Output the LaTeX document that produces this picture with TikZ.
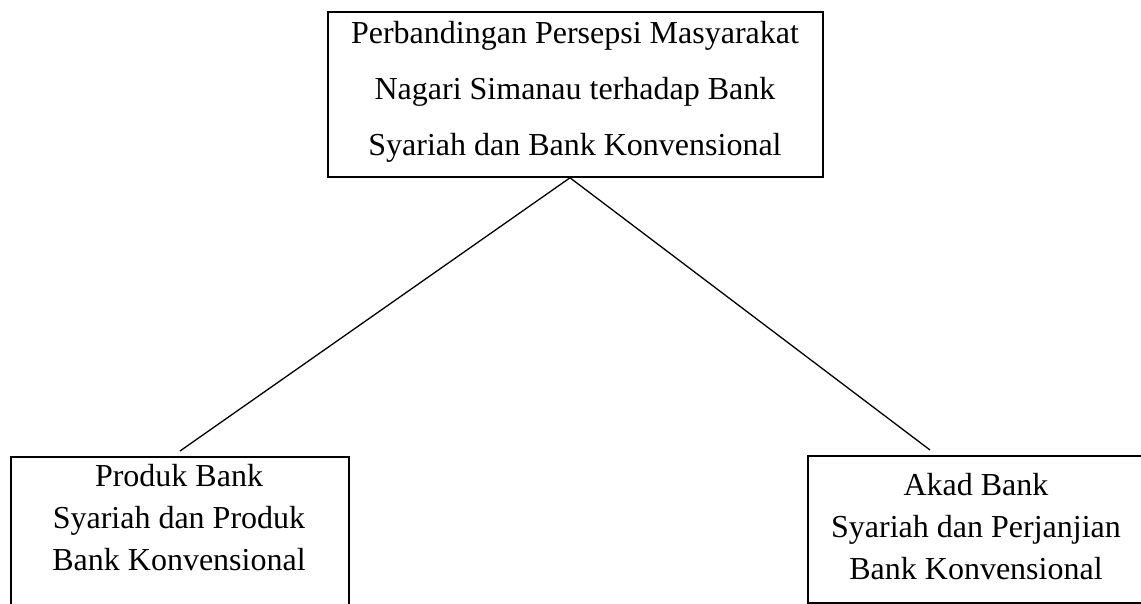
\documentclass[tikz,border=0pt]{standalone}
\usepackage{fontspec}
\setmainfont{Liberation Serif}
\begin{document}
\begin{tikzpicture}[x=1pt,y=1pt,
  boxstyle/.style={draw, line width=1.6pt, inner sep=0pt},
  toptxt/.style={align=center, inner sep=0pt, font=\fontsize{32}{56}\selectfont},
  lowtxt/.style={align=center, inner sep=0pt, font=\fontsize{32}{42}\selectfont},
  conn/.style={line width=1.3pt}]
\fill[white] (0,0) rectangle (1141,-603);
\useasboundingbox (0,0) rectangle (1141,-603);
% top box
\node[boxstyle, minimum width=495pt, minimum height=165pt] (top) at (575.5,-94.5) {};
\node[toptxt] (toptext) at (575,-91.6)
  {Perbandingan Persepsi Masyarakat\\Nagari Simanau terhadap Bank\\Syariah dan Bank Konvensional};
% bottom boxes
\node[boxstyle, anchor=north west, minimum width=338pt, minimum height=162pt] (lbox) at (10,-456) {};
\node[lowtxt] (ltext) at (179,-517.6) {Produk Bank\\Syariah dan Produk\\Bank Konvensional};
\node[boxstyle, anchor=north west, minimum width=338pt, minimum height=147pt] (rbox) at (807,-455) {};
\node[lowtxt] (rtext) at (976,-527) {Akad Bank\\Syariah dan Perjanjian\\Bank Konvensional};
% connectors
\coordinate (apex) at ([xshift=-5.5pt]top.south);
\coordinate (lend) at (180,-451);
\coordinate (rend) at (930,-450);
\draw[conn] (apex) -- (lend);
\draw[conn] (apex) -- (rend);
\end{tikzpicture}
\end{document}
